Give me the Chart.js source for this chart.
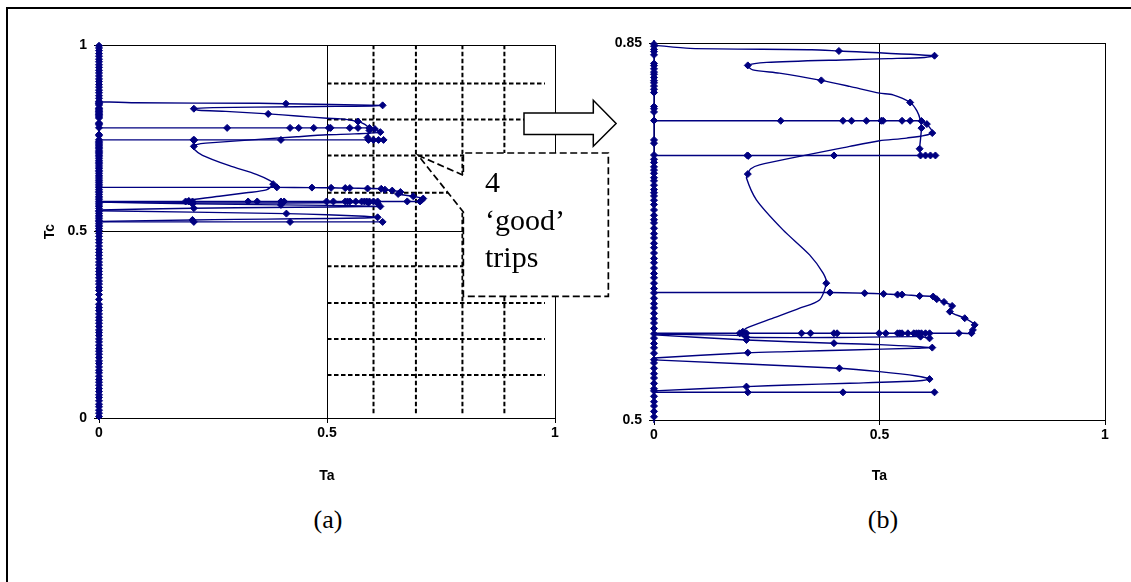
<!DOCTYPE html>
<html>
<head>
<meta charset="utf-8">
<script src="https://cdn.jsdelivr.net/npm/chart.js@4/dist/chart.umd.min.js"></script>
<style>
  html, body { margin: 0; padding: 0; background: #fff; }
  body { width: 1131px; height: 582px; position: relative; overflow: hidden; }
  #frame { position: absolute; left: 6px; top: 7px; width: 1200px; height: 700px;
           border-left: 2px solid #000; border-top: 2px solid #000; }
  .wrap { position: absolute; top: 0; }
  #wrapA { left: 0; z-index: 2; }
  #wrapB { left: 600px; z-index: 1; }
  .note { position: absolute; left: 485px; top: 163px; z-index: 3;
          font: 30px/37.5px "Liberation Serif", "Times New Roman", serif; color: #000; }
  .cap { position: absolute; top: 505px; width: 100px; text-align: center; z-index: 3;
         font: 26px/30px "Liberation Serif", "Times New Roman", serif; color: #000; }
</style>
</head>
<body>
<div id="frame"></div>
<div id="wrapB" class="wrap"><canvas id="chartB" width="531" height="500"></canvas></div>
<div id="wrapA" class="wrap"><canvas id="chartA" width="620" height="500"></canvas></div>
<div class="note">4<br>‘good’<br>trips</div>
<div class="cap" style="left:278px">(a)</div>
<div class="cap" style="left:833px">(b)</div>

<script>
// ── Axis ticks ──
const xTicks = [0, 0.5, 1];
const yTicksA = [0, 0.5, 1];
const yTicksB = [0.5, 0.85];

// ── Tc samples while Ta = 0 (the column on the left axis) ──
const zeroTc = [
  0.004, 0.013, 0.021, 0.03, 0.037, 0.046, 0.055, 0.062, 0.071, 0.079, 0.088, 0.096, 0.103, 0.112,
  0.121, 0.128, 0.137, 0.146, 0.153, 0.162, 0.171, 0.179, 0.186, 0.195, 0.204, 0.212, 0.221, 0.229,
  0.236, 0.245, 0.254, 0.262, 0.27, 0.279, 0.288, 0.296, 0.305, 0.318, 0.331, 0.342, 0.35, 0.359,
  0.367, 0.376, 0.385, 0.393, 0.401, 0.41, 0.418, 0.427, 0.436, 0.444, 0.452, 0.461, 0.47, 0.478,
  0.487, 0.495, 0.503, 0.508, 0.513, 0.517, 0.522, 0.527, 0.529, 0.534, 0.539, 0.543, 0.548, 0.553,
  0.556, 0.562, 0.567, 0.571, 0.576, 0.58, 0.585, 0.59, 0.594, 0.599, 0.604, 0.608, 0.613, 0.618,
  0.622, 0.627, 0.632, 0.636, 0.641, 0.646, 0.65, 0.655, 0.66, 0.664, 0.669, 0.673, 0.678, 0.683,
  0.686, 0.69, 0.695, 0.7, 0.704, 0.708, 0.711, 0.714, 0.718, 0.722, 0.725, 0.729, 0.732, 0.735,
  0.739, 0.742, 0.746, 0.757, 0.76, 0.778, 0.786, 0.789, 0.791, 0.804, 0.807, 0.81, 0.813, 0.815,
  0.818, 0.821, 0.823, 0.826, 0.829, 0.831, 0.839, 0.842, 0.844, 0.847, 0.849, 0.857, 0.864, 0.872,
  0.879, 0.887, 0.894, 0.902, 0.909, 0.917, 0.925, 0.932, 0.94, 0.947, 0.955, 0.962, 0.97, 0.977,
  0.985, 0.992, 0.998
];

// ── Trips: [Ta, Tc] along each line ──
const tripTop = [
  [0, 0.848], [0.08, 0.845], [0.35, 0.8438], [0.41, 0.8426], [0.622, 0.8382], [0.6, 0.8366],
  [0.52, 0.8355], [0.434, 0.8345], [0.25, 0.832], [0.208, 0.8292], [0.219, 0.825], [0.278, 0.822],
  [0.371, 0.8153], [0.434, 0.8097], [0.5, 0.8035], [0.53, 0.8019], [0.568, 0.7948], [0.583, 0.787],
  [0.591, 0.778], [0.593, 0.771], [0.591, 0.761], [0.589, 0.7518], [0.591, 0.7456]
];
const trip0746 = [[0, 0.7456], [0.207, 0.7456], [0.399, 0.7456], [0.591, 0.7456], [0.602, 0.7456], [0.613, 0.7456], [0.624, 0.7456]];
const trip0778 = [
  [0, 0.7778], [0.281, 0.7778], [0.419, 0.7778], [0.438, 0.7778], [0.471, 0.7778], [0.504, 0.7778],
  [0.508, 0.7778], [0.55, 0.7778], [0.568, 0.7778], [0.593, 0.7776], [0.605, 0.7747], [0.617, 0.7664],
  [0.56, 0.7617], [0.5, 0.7593], [0.434, 0.754], [0.234, 0.7369], [0.214, 0.733], [0.208, 0.7283],
  [0.205, 0.7246], [0.227, 0.7044], [0.286, 0.6765], [0.345, 0.6533], [0.375, 0.6363], [0.382, 0.627],
  [0.367, 0.6114], [0.323, 0.6038], [0.264, 0.5945], [0.205, 0.5852], [0.197, 0.582]
];
const trip0618 = [
  [0, 0.6183], [0.39, 0.6183], [0.467, 0.6177], [0.509, 0.6171], [0.54, 0.6164], [0.55, 0.6164],
  [0.589, 0.6152], [0.619, 0.6146], [0.627, 0.6122], [0.643, 0.6096], [0.661, 0.6059], [0.656, 0.6006],
  [0.689, 0.5945], [0.711, 0.5883], [0.707, 0.5836], [0.704, 0.5806], [0.676, 0.5806], [0.611, 0.5805],
  [0.5, 0.5805], [0.19, 0.5805], [0, 0.5805]
];
const tripLow1 = [[0, 0.5798], [0.19, 0.5785], [0.205, 0.5768], [0.4, 0.5766], [0.591, 0.5774], [0.611, 0.5758]];
const tripLow2 = [
  [0, 0.579], [0.205, 0.5743], [0.399, 0.5713], [0.5, 0.57], [0.617, 0.5672], [0.58, 0.5666],
  [0.434, 0.565], [0.3, 0.5635], [0.208, 0.5625], [0, 0.5576]
];
const tripLow3 = [
  [0, 0.5558], [0.411, 0.548], [0.5, 0.5449], [0.582, 0.5409], [0.611, 0.538], [0.582, 0.5362],
  [0.434, 0.5341], [0.3, 0.5325], [0.205, 0.531], [0, 0.527]
];
const tripBottom = [[0, 0.5257], [0.208, 0.5257], [0.419, 0.5257], [0.622, 0.5257]];

// ── Logged samples (markers) on the trips ──
const dotsTop = [[0.41, 0.8426], [0.622, 0.8382], [0.208, 0.8292], [0.371, 0.8153], [0.568, 0.7948], [0.593, 0.771], [0.589, 0.7518]];
const dots0746 = [[0.207, 0.7456], [0.209, 0.7452], [0.399, 0.7456], [0.591, 0.7456], [0.602, 0.7456], [0.613, 0.7456], [0.624, 0.7456]];
const dots0778 = [
  [0.281, 0.7778], [0.419, 0.7778], [0.438, 0.7778], [0.471, 0.7778], [0.504, 0.7778], [0.508, 0.7778],
  [0.55, 0.7778], [0.568, 0.7778], [0.593, 0.7776], [0.605, 0.7747], [0.617, 0.7664], [0.208, 0.7283],
  [0.382, 0.627], [0.197, 0.582]
];
const dots0618 = [
  [0.39, 0.6183], [0.467, 0.6177], [0.509, 0.6171], [0.54, 0.6164], [0.55, 0.6164], [0.589, 0.6152],
  [0.619, 0.6146], [0.627, 0.6122], [0.643, 0.6096], [0.661, 0.6059], [0.656, 0.6006], [0.689, 0.5945],
  [0.711, 0.5883], [0.707, 0.5836], [0.704, 0.5806], [0.676, 0.5806], [0.611, 0.5805], [0.602, 0.5805],
  [0.593, 0.5805], [0.587, 0.5805], [0.582, 0.5805], [0.576, 0.5805], [0.563, 0.5805], [0.55, 0.5805],
  [0.545, 0.5805], [0.54, 0.5805], [0.514, 0.5805], [0.499, 0.5805], [0.406, 0.5805], [0.399, 0.5805],
  [0.347, 0.5805], [0.327, 0.5805], [0.205, 0.5805], [0.197, 0.5805], [0.19, 0.5805]
];
const dotsLow = [
  [0.205, 0.5768], [0.591, 0.5774], [0.611, 0.5758], [0.205, 0.5743], [0.399, 0.5713], [0.617, 0.5672],
  [0.208, 0.5625], [0.411, 0.548], [0.611, 0.538], [0.205, 0.531], [0.208, 0.5257], [0.419, 0.5257],
  [0.622, 0.5257]
];

// ── Hand-drawn guide grid on panel (a) ──
const guideTa = [0.602, 0.695, 0.797, 0.889];
const guideTc = [0.897, 0.8, 0.704, 0.604, 0.407, 0.308, 0.212, 0.115];

const trips = [tripTop, trip0746, trip0778, trip0618, tripLow1, tripLow2, tripLow3, tripBottom];
const dots = [dotsTop, dots0746, dots0778, dots0618, dotsLow];

// ═══════════════════════════════════════════════

const NAVY = '#000080';
const FONT = { family: '"Liberation Sans", Arial, sans-serif', size: 14, weight: 'bold' };
const CLIP = { left: 6, right: 6, top: 3, bottom: 3 };

Chart.defaults.font.family = FONT.family;
Chart.defaults.color = '#000';

const pts = list => list.map(([x, y]) => ({ x, y }));

function dataSets() {
  const marker = { pointStyle: 'rectRot', pointRadius: 3.5, pointBackgroundColor: NAVY, pointBorderColor: NAVY, pointBorderWidth: 1 };
  const sets = [{
    data: zeroTc.map(y => ({ x: 0, y })), showLine: true, borderColor: NAVY, borderWidth: 1.5, clip: CLIP, ...marker
  }];
  trips.forEach(t => sets.push({
    data: pts(t), showLine: true, borderColor: NAVY, borderWidth: 1.4, pointRadius: 0, tension: 0.25, clip: CLIP
  }));
  sets.push({ data: pts(dots.flat()), showLine: false, clip: CLIP, ...marker });
  return sets;
}

function guideSets() {
  const style = { showLine: true, borderColor: '#000', borderWidth: 2, borderDash: [4.5, 2.5], pointRadius: 0, order: 5 };
  return [
    ...guideTa.map(x => ({ ...style, data: [{ x, y: 0.013 }, { x, y: 1 }] })),
    ...guideTc.map(y => ({ ...style, data: [{ x: 0.5, y }, { x: 0.978, y }] }))
  ];
}

function axis(ticks, min, max, opts) {
  return {
    type: 'linear', min, max,
    afterBuildTicks: s => { s.ticks = ticks.map(value => ({ value })); },
    ticks: { font: FONT, color: '#000', padding: opts.pad, callback: v => String(v) },
    grid: { color: '#000', lineWidth: 1, tickLength: 5, tickColor: '#000' },
    border: { color: '#000', width: 1 },
    title: opts.title ? { display: true, text: opts.title, font: FONT, color: '#000', padding: opts.titlePad } : { display: false },
    afterFit: opts.fit
  };
}

// ── Callout + arrow drawn over panel (a), anchored in data units ──
const callout = {
  id: 'callout',
  afterDraw(chart) {
    const { ctx, scales: { x, y } } = chart;
    const X = v => x.getPixelForValue(v), Y = v => y.getPixelForValue(v);
    ctx.save();
    ctx.fillStyle = '#fff';
    ctx.strokeStyle = '#000';

    // block arrow
    ctx.beginPath();
    ctx.moveTo(X(0.932), Y(0.8177));
    ctx.lineTo(X(1.084), Y(0.8177));
    ctx.lineTo(X(1.084), Y(0.8517));
    ctx.lineTo(X(1.134), Y(0.7893));
    ctx.lineTo(X(1.084), Y(0.7284));
    ctx.lineTo(X(1.084), Y(0.7598));
    ctx.lineTo(X(0.932), Y(0.7598));
    ctx.closePath();
    ctx.fill();
    ctx.lineWidth = 1.5;
    ctx.stroke();

    // dashed rectangle callout pointing at (0.7, 0.7)
    ctx.beginPath();
    ctx.moveTo(X(0.7), Y(0.704));
    ctx.lineTo(X(0.799), Y(0.6507));
    ctx.lineTo(X(0.799), Y(0.7105));
    ctx.lineTo(X(1.117), Y(0.7105));
    ctx.lineTo(X(1.117), Y(0.3263));
    ctx.lineTo(X(0.799), Y(0.3263));
    ctx.lineTo(X(0.799), Y(0.5523));
    ctx.closePath();
    ctx.fill();
    ctx.setLineDash([7, 3.5]);
    ctx.lineWidth = 1.7;
    ctx.stroke();
    ctx.restore();
  }
};

new Chart(document.getElementById('chartA'), {
  type: 'scatter',
  data: { datasets: [...dataSets(), ...guideSets()] },
  options: {
    responsive: false, animation: false, events: [],
    layout: { padding: { top: 45, right: 65, bottom: 0, left: 0 } },
    plugins: { legend: { display: false }, tooltip: { enabled: false } },
    scales: {
      x: axis(xTicks, 0, 1, { pad: 2, title: 'Ta', titlePad: { top: 0, bottom: 15 }, fit: s => { s.height = 82; } }),
      y: axis(yTicksA, 0, 1, { pad: 7, title: 'Tc', titlePad: { top: 42, bottom: 0 }, fit: s => { s.width = 99; } })
    }
  },
  plugins: [callout]
});

new Chart(document.getElementById('chartB'), {
  type: 'scatter',
  data: { datasets: dataSets() },
  options: {
    responsive: false, animation: false, events: [],
    layout: { padding: { top: 43, right: 26, bottom: 0, left: 0 } },
    plugins: { legend: { display: false }, tooltip: { enabled: false } },
    scales: {
      x: axis(xTicks, 0, 1, { pad: 2, title: 'Ta', titlePad: { top: 0, bottom: 15 }, fit: s => { s.height = 80; } }),
      y: axis(yTicksB, 0.5, 0.85, { pad: 7, fit: s => { s.width = 54; } })
    }
  }
});
</script>
</body>
</html>
